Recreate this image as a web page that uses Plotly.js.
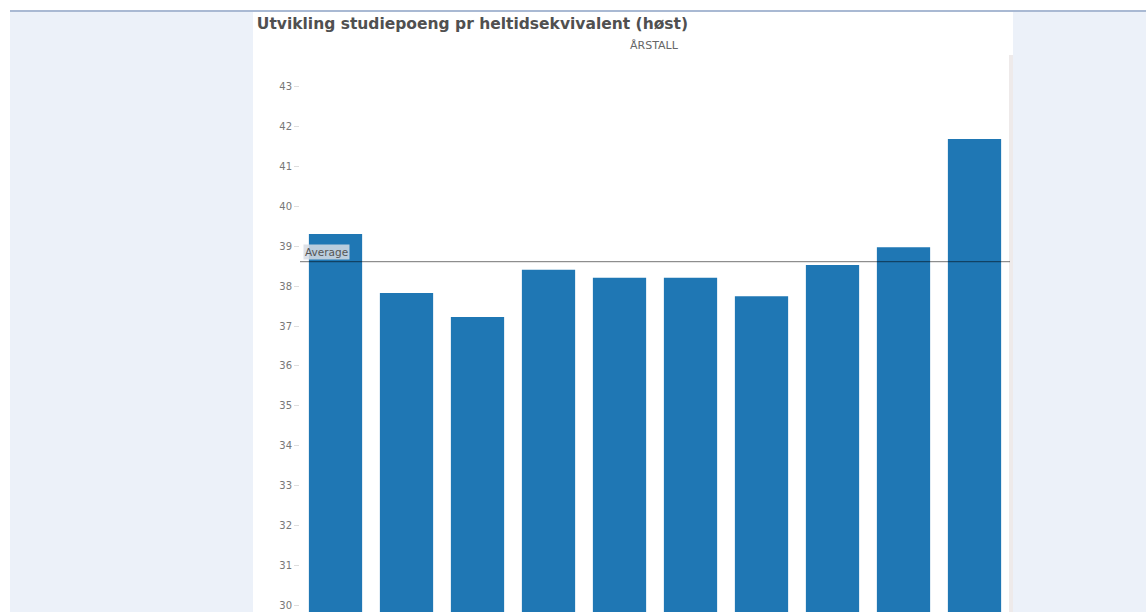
<!DOCTYPE html>
<html>
<head>
<meta charset="utf-8">
<script src="https://cdn.plot.ly/plotly-3.0.1.min.js"></script>
<style>
  html, body { margin:0; padding:0; width:1146px; height:612px; overflow:hidden; background:#ffffff; }
  #bg { position:absolute; left:10px; top:10px; width:1136px; height:602px; background:#ECF1F9; border-top:2px solid #A9B9D3; }
  #panel { position:absolute; left:253px; top:12px; width:760px; height:700px; background:#ffffff; }
  #shadow { position:absolute; left:1009px; top:55px; width:4px; height:600px; background:#EEEAEA; }
  #chart { position:absolute; left:253px; top:12px; width:760px; height:700px; }
</style>
</head>
<body>
<div id="bg"></div>
<div id="panel"></div>
<div id="shadow"></div>
<div id="chart"></div>
<script>
const years = ['2013','2014','2015','2016','2017','2018','2019','2020','2021','2022'];
const studiepoeng = [39.31, 37.83, 37.23, 38.41, 38.21, 38.21, 37.75, 38.53, 38.98, 41.69];
const yTicks = [30,31,32,33,34,35,36,37,38,39,40,41,42,43];
const titleText = 'Utvikling studiepoeng pr heltidsekvivalent (høst)';
const legendTitle = 'ÅRSTALL';
const averageLabel = 'Average';

const avg = studiepoeng.reduce((a,b)=>a+b,0) / studiepoeng.length;

const trace = {
  type:'bar', x: years, y: studiepoeng,
  marker:{color:'#1F77B4'},
  hoverinfo:'x+y'
};

const layout = {
  width:760, height:700,
  margin:{l:46.5, r:2.5, t:43, b:67.15},
  paper_bgcolor:'rgba(0,0,0,0)', plot_bgcolor:'rgba(0,0,0,0)',
  showlegend:false,
  bargap:0.25,
  font:{family:'DejaVu Sans, sans-serif'},
  title:{text:titleText, x:0.005, xanchor:'left', y:1 - 12/700, yanchor:'middle', yref:'container',
         font:{family:'DejaVu Sans, sans-serif', size:15.5, weight:'bold', color:'#505050'}},
  xaxis:{type:'category', showgrid:false, zeroline:false, showline:false, showticklabels:false,
         tickfont:{size:9, color:'#666'}},
  yaxis:{range:[29, 43.8], tickvals:yTicks, ticktext:yTicks.map(String),
         showgrid:false, zeroline:false, showline:false,
         ticks:'outside', ticklen:5, tickcolor:'#ddd', tickwidth:1,
         tickfont:{size:10, color:'#777'}},
  shapes:[{type:'line', xref:'paper', x0:0, x1:1, yref:'y', y0:avg, y1:avg,
           line:{color:'rgba(0,0,0,0.55)', width:1}}],
  annotations:[
    {text:averageLabel, xref:'paper', x:0.004, xanchor:'left', yref:'y', y:avg, yanchor:'bottom',
     showarrow:false, font:{size:10.5, color:'#555'}, bgcolor:'rgba(215,220,228,0.85)', borderpad:1, yshift:2},
    {text:legendTitle, xref:'paper', x:0.4986, xanchor:'center', yref:'paper', y:1.0, yanchor:'bottom', yshift:1,
     showarrow:false, font:{size:11, color:'#666'}}
  ]
};

Plotly.newPlot('chart', [trace], layout, {displayModeBar:false, staticPlot:true});
</script>
</body>
</html>
